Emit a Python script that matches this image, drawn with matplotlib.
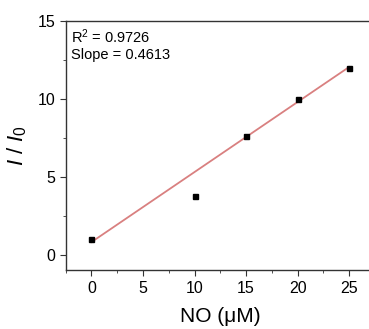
import matplotlib
matplotlib.use("Agg")
import matplotlib.pyplot as plt
from matplotlib.ticker import MultipleLocator

plt.rcParams['font.family'] = ['Liberation Sans', 'DejaVu Sans']
plt.rcParams['mathtext.fontset'] = 'custom'
plt.rcParams['mathtext.rm'] = 'Liberation Sans'
plt.rcParams['mathtext.it'] = 'Liberation Sans:italic'

### data
no_conc = [0, 10, 15, 20, 25]
ratio = [1.03, 3.74, 7.63, 10.0, 11.97]
fit_x = [0, 25]
fit_y = [0.8, 12.05]

fig = plt.figure(figsize=(3.69, 3.29), dpi=100)
# right spine falls just outside the picture, as in the source
ax = fig.add_axes([0.178, 0.179, 0.838, 0.757])

ax.plot(fit_x, fit_y, color='#d98080', lw=1.3, zorder=2)
ax.plot(no_conc, ratio, 's', color='black', ms=3.6, zorder=3)

ax.set_xlim(-2.5, 27.5)
ax.set_ylim(-1, 15)
ax.xaxis.set_major_locator(MultipleLocator(5))
ax.xaxis.set_minor_locator(MultipleLocator(2.5))
ax.yaxis.set_major_locator(MultipleLocator(5))
ax.yaxis.set_minor_locator(MultipleLocator(2.5))
ax.tick_params(which='both', direction='out', labelsize=11.5, color='#333333')
ax.tick_params(which='major', length=4)
ax.tick_params(which='minor', length=2.5)
for s in ax.spines.values():
    s.set_linewidth(1.0)
    s.set_color('#333333')

ax.set_xlabel('NO (\u03bcM)', fontsize=15, labelpad=8)
ax.set_ylabel('$\\mathit{I}$ / $\\mathit{I}_0$', fontsize=16, labelpad=6)

ax.text(0.018, 0.975, 'R$^2$ = 0.9726\nSlope = 0.4613', transform=ax.transAxes,
        ha='left', va='top', fontsize=10.5, linespacing=1.2)

fig.savefig('out.png', dpi=100)
